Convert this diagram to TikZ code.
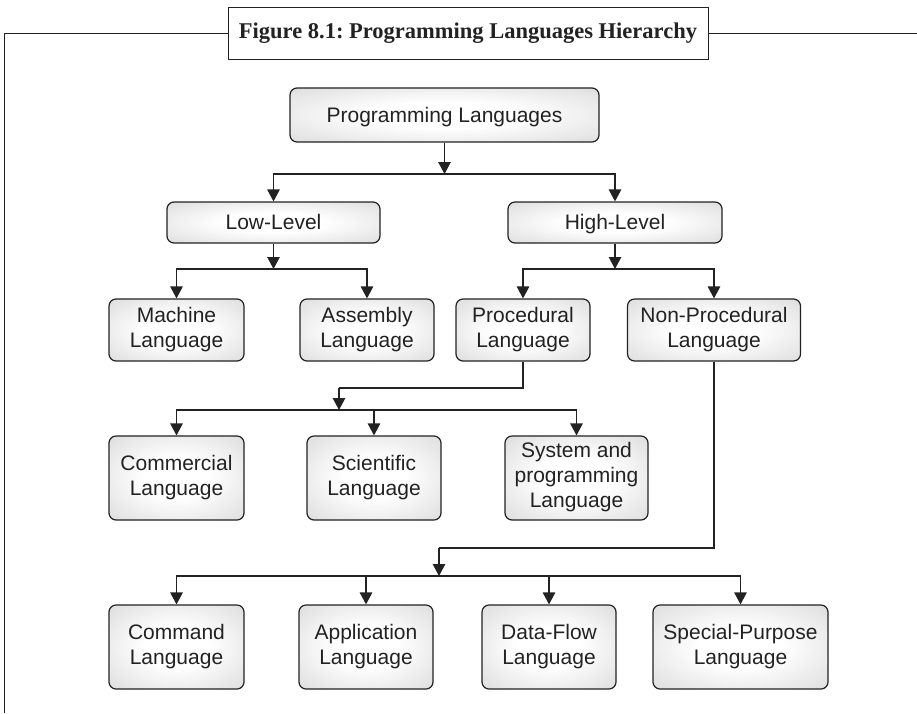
\documentclass[tikz,border=0pt]{standalone}
\usepackage{fontspec}
\setmainfont{Liberation Sans}
\newfontfamily\titlefont{Liberation Serif}
\usetikzlibrary{arrows.meta}
\definecolor{ink}{HTML}{222222}
\newcommand\boxstrut{\rule[-5.5pt]{0pt}{25pt}}
\pgfdeclareradialshading{boxshade}{\pgfpoint{0bp}{0bp}}{%
  color(0bp)=(white); color(12bp)=(white); color(30bp)=(black!10);
  color(50bp)=(black!22); color(72bp)=(black!30)}
\tikzset{
  box/.style={draw=ink, line width=1.2pt, rounded corners=7pt, shading=boxshade,
    align=center, inner sep=0pt,
    font=\fontsize{21}{25}\selectfont, text=ink,
    execute at begin node={\boxstrut}, execute at end node={\boxstrut}},
  conn/.style={draw=ink, line width=1.2pt},
  arr/.style={conn, -{Triangle[length=12pt,width=12.5pt]}},
  titlebox/.style={draw=ink, line width=1pt, fill=white, inner sep=0pt,
    font=\titlefont\bfseries\fontsize{22.5}{26}\selectfont, text=ink}
}
\begin{document}
\frenchspacing
\begin{tikzpicture}[x=1pt,y=-1pt]
\useasboundingbox[fill=white] (0,0) rectangle (917,713);

% frame and title
\node[titlebox, minimum width=480pt, minimum height=52pt] (title) at (468,33) {Figure 8.1: Programming Languages Hierarchy};
\draw[conn, line width=1pt] (4,713) -- (4,33) -- (title.west);
\draw[conn, line width=1pt] (title.east) -- (917,33);

% nodes
\node[box, minimum width=309pt, minimum height=54pt] (pl) at (444.5,115) {Programming Languages};
\node[box, minimum width=213pt, minimum height=41pt] (low) at (273.5,222.5) {Low-Level};
\node[box, minimum width=214pt, minimum height=41pt] (high) at (615,222.5) {High-Level};

\node[box, minimum width=135pt, minimum height=62pt] (mach) at (176.5,330) {Machine\\Language};
\node[box, minimum width=134pt, minimum height=62pt] (asm) at (367,330) {Assembly\\Language};
\node[box, minimum width=134pt, minimum height=62pt] (proc) at (523,330) {Procedural\\Language};
\node[box, minimum width=173pt, minimum height=62pt] (np) at (714,330) {Non-Procedural\\Language};

\node[box, minimum width=135pt, minimum height=84pt] (comm) at (176.5,478) {Commercial\\Language};
\node[box, minimum width=134pt, minimum height=84pt] (sci) at (374,478) {Scientific\\Language};
\node[box, minimum width=143pt, minimum height=84pt] (sys) at (576.5,478) {System and\\programming\\Language};

\node[box, minimum width=135pt, minimum height=84pt] (cmd) at (176.5,647) {Command\\Language};
\node[box, minimum width=134pt, minimum height=84pt] (app) at (366,647) {Application\\Language};
\node[box, minimum width=134pt, minimum height=84pt] (df) at (549,647) {Data-Flow\\Language};
\node[box, minimum width=175pt, minimum height=84pt] (sp) at (740.5,647) {Special-Purpose\\Language};

% junctions
\coordinate (j1) at (444.5,174);
\coordinate (j2) at (273.5,269);
\coordinate (j3) at (615,269);
\coordinate (k1) at (339,388);
\coordinate (j4) at (339,410);
\coordinate (k2) at (439,548);
\coordinate (j5) at (439,576);

% connectors
\draw[arr] (pl.south) -- (j1);
\draw[arr] (j1) -| (low.north);
\draw[arr] (j1) -| (high.north);

\draw[arr] (low.south) -- (j2);
\draw[arr] (j2) -| (mach.north);
\draw[arr] (j2) -| (asm.north);

\draw[arr] (high.south) -- (j3);
\draw[arr] (j3) -| (proc.north);
\draw[arr] (j3) -| (np.north);

\draw[conn] (proc.south) |- (k1);
\draw[arr] (k1) -- (j4);
\draw[arr] (j4) -| (comm.north);
\draw[arr] (j4) -| (sci.north);
\draw[arr] (j4) -| (sys.north);

\draw[conn] (np.south) |- (k2);
\draw[arr] (k2) -- (j5);
\draw[arr] (j5) -| (cmd.north);
\draw[arr] (j5) -| (app.north);
\draw[arr] (j5) -| (df.north);
\draw[arr] (j5) -| (sp.north);
\end{tikzpicture}
\end{document}
